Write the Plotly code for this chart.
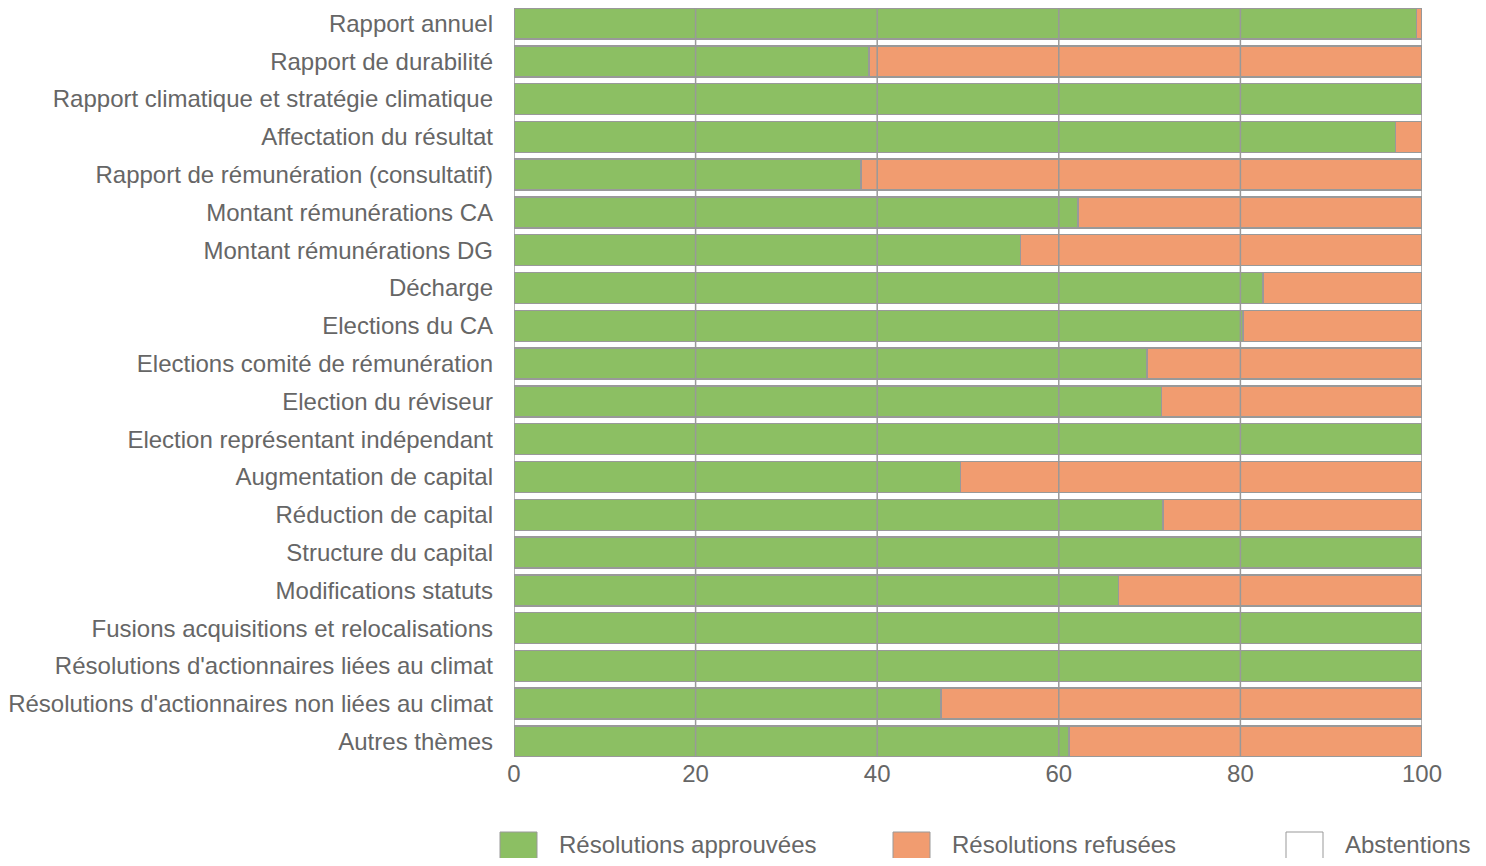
import plotly.graph_objects as go

categories = [
    "Rapport annuel",
    "Rapport de durabilité",
    "Rapport climatique et stratégie climatique",
    "Affectation du résultat",
    "Rapport de rémunération (consultatif)",
    "Montant rémunérations CA",
    "Montant rémunérations DG",
    "Décharge",
    "Elections du CA",
    "Elections comité de rémunération",
    "Election du réviseur",
    "Election représentant indépendant",
    "Augmentation de capital",
    "Réduction de capital",
    "Structure du capital",
    "Modifications statuts",
    "Fusions acquisitions et relocalisations",
    "Résolutions d'actionnaires liées au climat",
    "Résolutions d'actionnaires non liées au climat",
    "Autres thèmes",
]
approuvees = [99.4, 39.1, 100, 97.1, 38.2, 62.1, 55.8, 82.5, 80.3, 69.7,
              71.3, 100, 49.2, 71.5, 100, 66.6, 100, 100, 47.0, 61.1]
refusees = [round(100 - a, 1) for a in approuvees]
abstentions = [0] * len(categories)

series_names = ["Résolutions approuvées", "Résolutions refusées", "Abstentions"]
series_colors = ["#8cbf63", "#f19c70", "#ffffff"]
x_ticks = [0, 20, 40, 60, 80, 100]

GRAY = "#999999"
TEXT = "#666666"
FONT = "Liberation Sans, Arial, sans-serif"
FS = 24
BARGAP = 0.18

fig = go.Figure()
for name, vals, col in zip(series_names, [approuvees, refusees, abstentions], series_colors):
    fig.add_trace(go.Bar(
        y=categories, x=vals, orientation="h", name=name,
        marker=dict(color=col, line=dict(color=GRAY, width=1.5)),
        showlegend=False, hoverinfo="x+y",
    ))

# gridlines drawn above bars
for t in x_ticks:
    fig.add_shape(type="line", xref="x", yref="paper", x0=t, x1=t, y0=0, y1=1,
                  line=dict(color=GRAY, width=1.5), layer="above")

# figure sits inside the page's 8px body margin
W, H = 1470, 850
L, R, T, B = 506, 56, 0, 101
OFF = 8
pw, ph = W - L - R, H - T - B
def px(x):
    return (x - OFF - L) / pw
def py(y):
    return (H - B - (y - OFF)) / ph

legend_x = [500, 893, 1286]
for lx, name, col in zip(legend_x, series_names, series_colors):
    fig.add_shape(type="rect", xref="paper", yref="paper",
                  x0=px(lx), x1=px(lx + 37), y0=py(832), y1=py(880),
                  fillcolor=col, line=dict(color=GRAY, width=1))
    fig.add_annotation(xref="paper", yref="paper", x=px(lx + 58), y=py(844),
                       text=name, showarrow=False, xanchor="left", yanchor="middle",
                       borderpad=0,
                       font=dict(family=FONT, size=FS, color=TEXT))

n = len(categories)
half = (1 - BARGAP) / 2
fig.update_layout(
    barmode="stack", bargap=BARGAP,
    width=W, height=H,
    margin=dict(l=L, r=R, t=T, b=B, pad=0, autoexpand=False),
    paper_bgcolor="white", plot_bgcolor="white",
    font=dict(family=FONT, size=FS, color=TEXT),
    xaxis=dict(range=[0, 100], tickvals=x_ticks, showgrid=False, zeroline=False,
               showline=False, ticks="", tickfont=dict(size=FS, color=TEXT),
               automargin=False, fixedrange=True),
    yaxis=dict(categoryorder="array", categoryarray=categories,
               range=[n - 1 + half, -half],
               showgrid=False, zeroline=False, showline=False, ticks="",
               ticklabelstandoff=20, tickfont=dict(size=FS, color=TEXT),
               automargin=False, fixedrange=True),
)

fig.write_html("out.html")
